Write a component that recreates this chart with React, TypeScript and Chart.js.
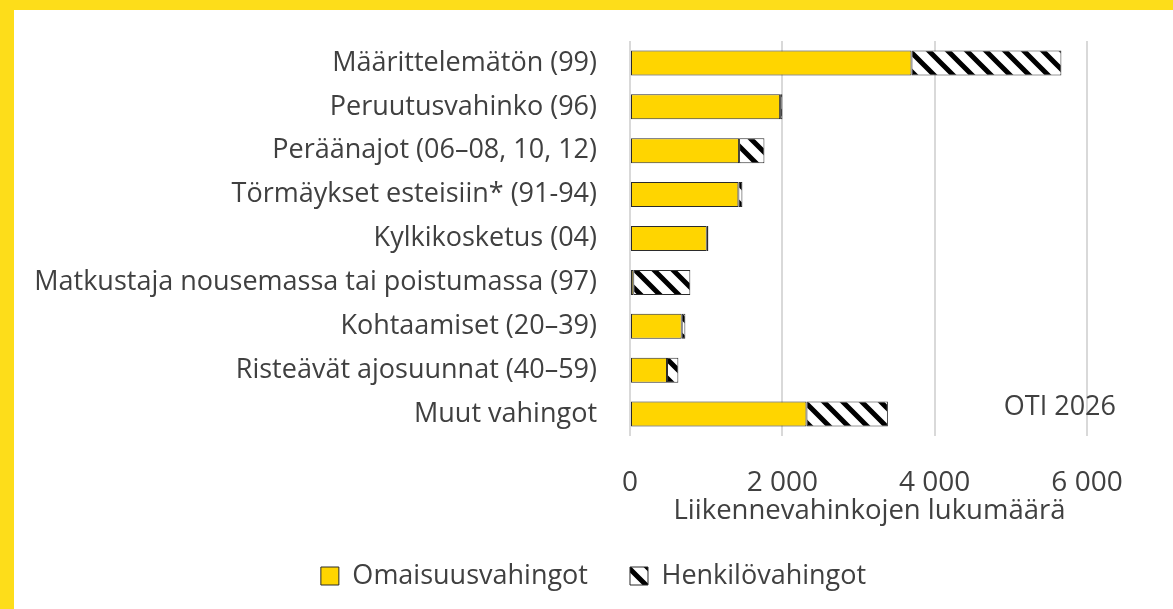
import React, { useEffect, useRef } from "react";
import { Chart, registerables } from "chart.js";

Chart.register(...registerables);

const categories = [
  "Määrittelemätön (99)",
  "Peruutusvahinko (96)",
  "Peräänajot (06–08, 10, 12)",
  "Törmäykset esteisiin* (91-94)",
  "Kylkikosketus (04)",
  "Matkustaja nousemassa tai poistumassa (97)",
  "Kohtaamiset (20–39)",
  "Risteävät ajosuunnat (40–59)",
  "Muut vahingot",
];
const omaisuusvahingot = [3696, 1971, 1432, 1423, 1008, 43, 679, 486, 2317];
const henkilovahingot = [1968, 30, 333, 53, 21, 749, 48, 149, 1069];
const seriesNames = ["Omaisuusvahingot", "Henkilövahingot"];
const xTicks = [0, 2000, 4000, 6000];
const axisTitle = "Liikennevahinkojen lukumäärä";
const sourceNote = "OTI 2026";

const FONT = "'Open Sans', 'Noto Sans', sans-serif";
const TEXT = "#404040";

function makeHatch(): CanvasPattern | string {
  const s = 19;
  const c = document.createElement("canvas");
  c.width = s;
  c.height = s;
  const g = c.getContext("2d");
  if (!g) return "#000";
  g.fillStyle = "#ffffff";
  g.fillRect(0, 0, s, s);
  g.strokeStyle = "#000000";
  g.lineWidth = 5;
  g.beginPath();
  g.moveTo(-5, -5);
  g.lineTo(s + 5, s + 5);
  g.moveTo(-5, s - 5);
  g.lineTo(5, s + 5);
  g.moveTo(s - 5, -5);
  g.lineTo(s + 5, 5);
  g.stroke();
  const p = g.createPattern(c, "repeat");
  return p || "#000";
}

const fmt = (v: number) => String(v).replace(/\B(?=(\d{3})+(?!\d))/g, " ");

export default function App() {
  const ref = useRef<HTMLCanvasElement | null>(null);
  useEffect(() => {
    if (!ref.current) return;
    const hatch = makeHatch();
    const textPlugin = {
      id: "extraText",
      afterDraw(chart: any) {
        const ctx = chart.ctx;
        const a = chart.chartArea;
        ctx.save();
        ctx.fillStyle = TEXT;
        ctx.textBaseline = "middle";
        ctx.font = `27px ${FONT}`;
        ctx.textAlign = "right";
        ctx.fillText(sourceNote, a.right + 29, a.bottom - 29);
        ctx.font = `27.5px ${FONT}`;
        ctx.textAlign = "center";
        ctx.fillText(axisTitle, (a.left + a.right) / 2 + 11, a.bottom + 75);
        ctx.restore();
      },
    };
    const chart = new Chart(ref.current, {
      type: "bar",
      data: {
        labels: categories,
        datasets: [
          {
            label: seriesNames[0],
            data: omaisuusvahingot,
            backgroundColor: "#FFD500",
            borderColor: "#2b2b2b",
            borderWidth: 1,
            borderSkipped: false,
          },
          {
            label: seriesNames[1],
            data: henkilovahingot,
            backgroundColor: hatch as any,
            borderColor: "#2b2b2b",
            borderWidth: 1,
            borderSkipped: false,
          },
        ],
      },
      options: {
        indexAxis: "y",
        responsive: false,
        animation: false,
        maintainAspectRatio: false,
        layout: { padding: { top: 31, right: 0, bottom: 9.5, left: 0 } },
        datasets: { bar: { categoryPercentage: 1, barPercentage: 0.57 } },
        plugins: {
          tooltip: { enabled: false },
          legend: {
            position: "bottom",
            labels: {
              font: { family: FONT, size: 27 },
              color: TEXT,
              boxWidth: 18,
              boxHeight: 18,
              padding: 42,
            },
          },
        },
        scales: {
          x: {
            stacked: true,
            min: 0,
            max: 6000,
            afterBuildTicks: (axis: any) => {
              axis.ticks = xTicks.map((v) => ({ value: v }));
            },
            afterFit: (axis: any) => {
              axis.height = 84.5;
            },
            ticks: {
              font: { family: FONT, size: 28 },
              color: TEXT,
              padding: 30,
              maxRotation: 0,
              callback: (v: any) => fmt(Number(v)),
            },
            grid: { color: "#d9d9d9", lineWidth: 2, drawTicks: false },
            border: { display: false },
          },
          y: {
            stacked: true,
            afterFit: (axis: any) => {
              axis.width = 616;
              axis.paddingTop = 0;
              axis.paddingBottom = 0;
            },
            ticks: {
              font: { family: FONT, size: 27 },
              color: TEXT,
              padding: 25,
              autoSkip: false,
            },
            grid: { display: false },
            border: { display: false },
          },
          rightSpace: {
            type: "category",
            axis: "y",
            position: "right",
            display: true,
            ticks: { display: false },
            grid: { display: false },
            border: { display: false },
            afterFit: (axis: any) => {
              axis.width = 86;
              axis.paddingTop = 0;
              axis.paddingBottom = 0;
            },
          },
        },
      },
      plugins: [textPlugin],
    } as any);
    return () => chart.destroy();
  }, []);

  return (
    <div
      style={{
        position: "fixed",
        left: 0,
        top: 0,
        width: 1173,
        height: 609,
        boxSizing: "border-box",
        background: "#ffffff",
        borderLeft: "14px solid #FDDD1A",
        borderTop: "10px solid #FDDD1A",
      }}
    >
      <canvas ref={ref} width={1159} height={599} style={{ display: "block" }} />
    </div>
  );
}
